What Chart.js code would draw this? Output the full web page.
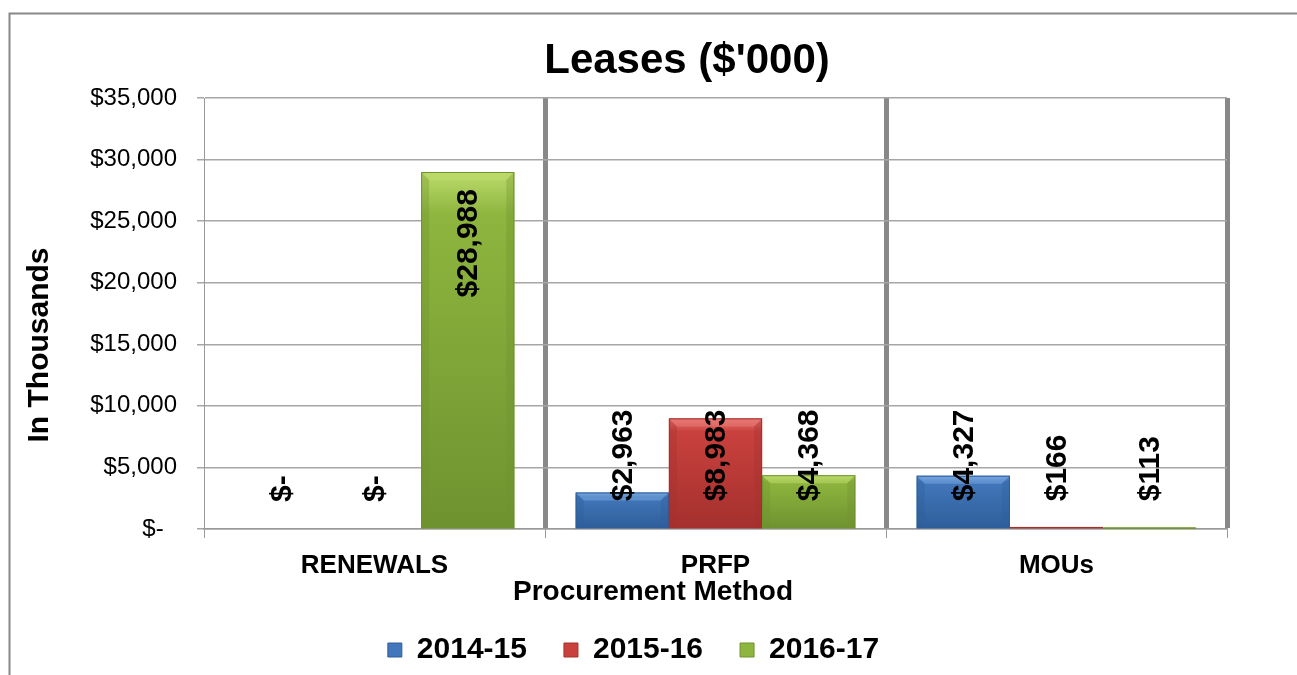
<!DOCTYPE html>
<html><head><meta charset="utf-8">
<script src="https://cdn.jsdelivr.net/npm/chart.js@4.4.1/dist/chart.umd.min.js"></script>
<style>html,body{margin:0;padding:0;background:#fff;overflow:hidden}</style>
</head><body>
<canvas id="c" width="1297" height="675"></canvas>
<script>
// ---- data ----
const categories = ['RENEWALS', 'PRFP', 'MOUs'];
const seriesNames = ['2014-15', '2015-16', '2016-17'];
const values2014_15 = [0, 2963, 4327];
const values2015_16 = [0, 8983, 166];
const values2016_17 = [28988, 4368, 113];
const yMin = 0, yMax = 35000, yStep = 5000;
const chartTitle = "Leases ($'000)";
const yAxisTitle = 'In Thousands';
const xAxisTitle = 'Procurement Method';

const FONT = '"Liberation Sans", Arial, Helvetica, sans-serif';
const palette = [
  {base: '#4277BB', light: '#76A6DE', dark: '#2F5E9A'},
  {base: '#C9413E', light: '#E87873', dark: '#A4302D'},
  {base: '#8EB53E', light: '#BCDB6C', dark: '#6F9230'}
];

function money(v) {
  return v === 0 ? '$-' : '$' + v.toLocaleString('en-US');
}

Chart.defaults.color = '#000';
Chart.defaults.font.family = FONT;

const frame = {
  id: 'frame',
  beforeDraw(chart) {
    const ctx = chart.ctx;
    ctx.save();
    ctx.fillStyle = '#fff';
    ctx.fillRect(0, 0, chart.width, chart.height);
    ctx.strokeStyle = '#888';
    ctx.lineWidth = 2;
    ctx.strokeRect(9.5, 13.5, 3000, 3000);
    ctx.restore();
  }
};

const legendShift = {
  id: 'legendShift',
  afterLayout(chart) {
    if (chart.legend) {
      chart.legend.left += 20;
      chart.legend.right += 20;
    }
  }
};

const bevel = {
  id: 'bevel',
  afterDatasetsDraw(chart) {
    const ctx = chart.ctx;
    chart.data.datasets.forEach((ds, i) => {
      const meta = chart.getDatasetMeta(i);
      const col = palette[i];
      meta.data.forEach((bar) => {
        const p = bar.getProps(['x', 'y', 'base', 'width'], true);
        const l = p.x - p.width / 2, r = p.x + p.width / 2, t = p.y, b = p.base;
        const h = b - t;
        if (h < 0.5) return;
        ctx.save();
        const g = ctx.createLinearGradient(0, t, 0, b);
        g.addColorStop(0, col.light);
        g.addColorStop(0.12, col.base);
        g.addColorStop(1, col.dark);
        ctx.fillStyle = g;
        ctx.fillRect(l, t, r - l, h);
        const e = Math.min(8, h / 2);
        ctx.globalAlpha = 0.55;
        ctx.fillStyle = col.light;
        ctx.beginPath();
        ctx.moveTo(l, t); ctx.lineTo(r, t); ctx.lineTo(r - e, t + e); ctx.lineTo(l + e, t + e); ctx.closePath();
        ctx.fill();
        ctx.fillStyle = col.dark;
        ctx.globalAlpha = 0.35;
        ctx.beginPath();
        ctx.moveTo(l, t); ctx.lineTo(l + e, t + e); ctx.lineTo(l + e, b); ctx.lineTo(l, b); ctx.closePath();
        ctx.fill();
        ctx.beginPath();
        ctx.moveTo(r, t); ctx.lineTo(r - e, t + e); ctx.lineTo(r - e, b); ctx.lineTo(r, b); ctx.closePath();
        ctx.fill();
        ctx.globalAlpha = 1;
        ctx.strokeStyle = col.dark;
        ctx.lineWidth = 1;
        ctx.strokeRect(l + 0.5, t + 0.5, r - l - 1, Math.max(h - 1, 0));
        ctx.restore();
      });
    });
  }
};

const dataLabels = {
  id: 'dataLabels',
  afterDatasetsDraw(chart) {
    const ctx = chart.ctx;
    ctx.save();
    ctx.font = 'bold 30px ' + FONT;
    ctx.fillStyle = '#000';
    ctx.textAlign = 'left';
    ctx.textBaseline = 'middle';
    chart.data.datasets.forEach((ds, i) => {
      const meta = chart.getDatasetMeta(i);
      meta.data.forEach((bar, j) => {
        const p = bar.getProps(['x', 'y', 'base'], true);
        const txt = money(ds.data[j]);
        const w = ctx.measureText(txt).width;
        const bottom = Math.min(p.base - 27, p.y + 17 + w);
        ctx.save();
        ctx.translate(p.x + 1, bottom);
        ctx.rotate(-Math.PI / 2);
        ctx.fillText(txt, 0, 0);
        ctx.restore();
      });
    });
    ctx.restore();
  }
};

const titles = {
  id: 'titles',
  afterDraw(chart) {
    const ctx = chart.ctx;
    ctx.save();
    ctx.fillStyle = '#000';
    ctx.textAlign = 'center';
    ctx.font = 'bold 42px ' + FONT;
    ctx.textBaseline = 'alphabetic';
    ctx.fillText(chartTitle, 687, 73);
    ctx.font = 'bold 28px ' + FONT;
    ctx.textBaseline = 'middle';
    ctx.fillText(xAxisTitle, 653, 592);
    ctx.save();
    ctx.translate(40, 345);
    ctx.rotate(-Math.PI / 2);
    ctx.font = 'bold 30px ' + FONT;
    ctx.fillText(yAxisTitle, 0, 0);
    ctx.restore();
    ctx.restore();
  }
};

const seriesValues = [values2014_15, values2015_16, values2016_17];

new Chart(document.getElementById('c'), {
  type: 'bar',
  data: {
    labels: categories,
    datasets: seriesNames.map((name, i) => ({
      label: name,
      data: seriesValues[i],
      backgroundColor: palette[i].base,
      borderColor: palette[i].dark,
      borderWidth: 1,
      categoryPercentage: 0.82,
      barPercentage: 1.0
    }))
  },
  options: {
    responsive: false,
    animation: false,
    devicePixelRatio: 1,
    layout: {padding: {top: 98, left: 0, right: 70, bottom: 0}},
    plugins: {
      legend: {
        position: 'bottom',
        labels: {
          boxWidth: 14, boxHeight: 14, padding: 37,
          color: '#000',
          font: {family: FONT, size: 30, weight: 'bold'}
        }
      },
      tooltip: {enabled: false},
      title: {display: false}
    },
    scales: {
      x: {
        grid: {
          offset: true,
          color: '#888',
          lineWidth: (c) => (c.index === 0 ? 1 : 5),
          drawTicks: true,
          tickLength: 9,
          tickWidth: 1,
          tickColor: '#999'
        },
        border: {display: true, color: '#999', width: 1.5},
        ticks: {color: '#000', font: {family: FONT, size: 26, weight: 'bold'}, padding: 12, maxRotation: 0},
        afterFit(s) { s.height = 69; }
      },
      y: {
        min: yMin, max: yMax,
        ticks: {
          stepSize: yStep,
          color: '#000',
          padding: 20,
          font: {family: FONT, size: 24},
          callback: (v) => (v === 0 ? '$-  ' : '$' + Number(v).toLocaleString('en-US'))
        },
        grid: {color: '#a6a6a6', lineWidth: 1.5, tickLength: 7, tickColor: '#a6a6a6'},
        border: {color: '#999', width: 1},
        afterFit(s) { s.width = 204; }
      }
    }
  },
  plugins: [frame, legendShift, bevel, dataLabels, titles]
});
</script>
</body></html>
